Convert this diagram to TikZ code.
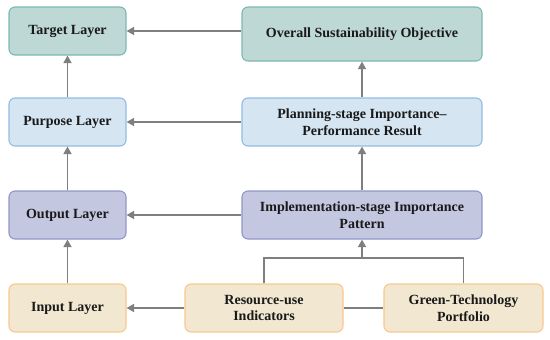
\documentclass[tikz,border=0pt]{standalone}
\usepackage{fontspec}
\setmainfont{Liberation Serif}
\usetikzlibrary{arrows.meta}
\definecolor{tealfill}{HTML}{BDD8D5}
\definecolor{tealline}{HTML}{7DB8B1}
\definecolor{bluefill}{HTML}{D5E5F2}
\definecolor{blueline}{HTML}{92BCE3}
\definecolor{purplefill}{HTML}{C3C7E0}
\definecolor{purpleline}{HTML}{9196C8}
\definecolor{sandfill}{HTML}{F2E7D0}
\definecolor{sandline}{HTML}{F7C98C}
\definecolor{arrowgray}{HTML}{7F7F7F}
\begin{document}
\begin{tikzpicture}
                    [x=1pt, y=-1pt,
                    every node/.style={font=\bfseries\fontsize{14}{16.7}\selectfont, align=center, text=black!90},
                    layer/.style={draw, rounded corners=6pt, line width=1.1pt, minimum height=48pt, inner sep=2pt},
                    target/.style={layer, fill=tealfill, draw=tealline},
                    purpose/.style={layer, fill=bluefill, draw=blueline},
                    output/.style={layer, fill=purplefill, draw=purpleline},
                    input/.style={layer, fill=sandfill, draw=sandline},
                    >={Triangle[length=7.5pt,width=8pt]}]
                    \useasboundingbox (0,0) rectangle (550,340);
                    \node[target, minimum width=117pt] (tgt) at (67.5,31) {Target Layer};
                    \node[target, minimum width=240pt, minimum height=54pt] (obj) at (362,34) {Overall Sustainability Objective};
                    \node[purpose, minimum width=117pt] (pur) at (67.5,122) {Purpose Layer};
                    \node[purpose, minimum width=240pt] (plan) at (362,122) {Planning-stage Importance--\\Performance Result};
                    \node[output, minimum width=117pt] (out) at (67.5,215) {Output Layer};
                    \node[output, minimum width=240pt] (impl) at (362,215) {Implementation-stage Importance\\Pattern};
                    \node[input, minimum width=117pt] (inp) at (67.5,308) {Input Layer};
                    \node[input, minimum width=158pt] (res) at (264,308) {Resource-use\\Indicators};
                    \node[input, minimum width=159pt] (green) at (463.5,308) {Green-Technology\\Portfolio};
                    \coordinate (join) at (362,258);
                    \begin{scope}[draw=arrowgray, line width=1.5pt]
                    \draw[->] (obj.west |- tgt.center) -- (tgt.east);
                    \draw[->] (plan) -- (pur);
                    \draw[->] (impl) -- (out);
                    \draw[->] (res) -- (inp);
                    \draw (res) -- (green);
                    \draw[->] (pur) -- (tgt);
                    \draw[->] (out) -- (pur);
                    \draw[->] (inp) -- (out);
                    \draw[->] (plan) -- (obj);
                    \draw[->] (impl) -- (plan);
                    \draw (res.north) |- (join) -| (green.north);
                    \draw[->] (join) -- (impl);
                    \end{scope}
                \end{tikzpicture}
\end{document}
